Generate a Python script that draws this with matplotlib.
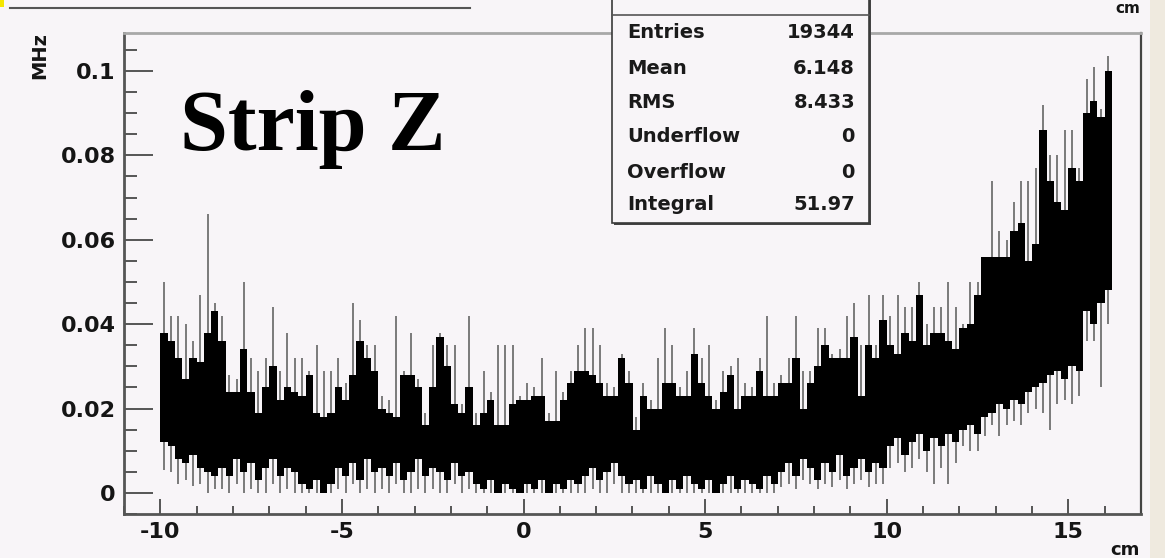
import numpy as np
import matplotlib
matplotlib.use('Agg')
import matplotlib.pyplot as plt
from matplotlib.patches import Rectangle
from matplotlib.lines import Line2D
from matplotlib.ticker import MultipleLocator, FixedLocator, FixedFormatter

plt.rcParams['axes.unicode_minus'] = False
plt.rcParams['font.family'] = ['DejaVu Sans']

# ---------------- data ----------------
hist_start = -10.0      # cm, first bin low edge
bin_width = 0.2         # cm

# upper edge of the dense black band per bin (MHz)
black_hi = [0.038, 0.036, 0.032, 0.027, 0.032, 0.031, 0.038, 0.043, 0.036, 0.024,
            0.024, 0.034, 0.024, 0.019, 0.025, 0.030, 0.022, 0.025, 0.024, 0.023,
            0.028, 0.019, 0.018, 0.019, 0.025, 0.022, 0.028, 0.036, 0.032, 0.029,
            0.020, 0.019, 0.018, 0.028, 0.028, 0.025, 0.016, 0.025, 0.037, 0.030,
            0.021, 0.019, 0.025, 0.016, 0.019, 0.022, 0.016, 0.016, 0.021, 0.022,
            0.022, 0.023, 0.023, 0.017, 0.017, 0.022, 0.026, 0.029, 0.029, 0.028,
            0.026, 0.023, 0.023, 0.032, 0.026, 0.015, 0.023, 0.020, 0.020, 0.026,
            0.026, 0.023, 0.023, 0.033, 0.026, 0.023, 0.020, 0.024, 0.028, 0.020,
            0.023, 0.023, 0.029, 0.023, 0.023, 0.026, 0.026, 0.032, 0.020, 0.026,
            0.030, 0.035, 0.032, 0.032, 0.032, 0.037, 0.023, 0.035, 0.032, 0.041,
            0.035, 0.033, 0.038, 0.036, 0.047, 0.035, 0.038, 0.038, 0.036, 0.034,
            0.039, 0.040, 0.047, 0.056, 0.056, 0.056, 0.056, 0.062, 0.064, 0.055,
            0.059, 0.086, 0.074, 0.069, 0.067, 0.077, 0.074, 0.090, 0.093, 0.089,
            0.100]

# lower edge of the dense black band per bin (MHz)
black_lo = [0.012, 0.011, 0.008, 0.007, 0.009, 0.006, 0.005, 0.004, 0.006, 0.004,
            0.008, 0.005, 0.007, 0.003, 0.006, 0.008, 0.004, 0.006, 0.005, 0.002,
            0.001, 0.003, 0.000, 0.002, 0.006, 0.004, 0.007, 0.003, 0.008, 0.005,
            0.006, 0.004, 0.007, 0.003, 0.005, 0.008, 0.004, 0.006, 0.005, 0.003,
            0.007, 0.004, 0.005, 0.002, 0.001, 0.003, 0.000, 0.002, 0.001, 0.000,
            0.002, 0.001, 0.003, 0.000, 0.002, 0.001, 0.003, 0.002, 0.004, 0.006,
            0.003, 0.005, 0.007, 0.004, 0.002, 0.003, 0.001, 0.004, 0.002, 0.000,
            0.003, 0.001, 0.004, 0.002, 0.001, 0.003, 0.000, 0.002, 0.004, 0.001,
            0.003, 0.002, 0.001, 0.004, 0.002, 0.005, 0.007, 0.004, 0.008, 0.006,
            0.003, 0.007, 0.005, 0.009, 0.004, 0.006, 0.008, 0.005, 0.007, 0.006,
            0.011, 0.013, 0.009, 0.012, 0.014, 0.010, 0.013, 0.011, 0.014, 0.012,
            0.015, 0.016, 0.014, 0.018, 0.019, 0.021, 0.020, 0.022, 0.021, 0.024,
            0.025, 0.026, 0.028, 0.029, 0.027, 0.030, 0.029, 0.043, 0.040, 0.045,
            0.048]

# highest error-bar tip per bin (MHz)
spike_hi = [0.050, 0.042, 0.042, 0.040, 0.036, 0.047, 0.066, 0.045, 0.042, 0.028,
            0.027, 0.050, 0.032, 0.029, 0.032, 0.044, 0.029, 0.038, 0.032, 0.032,
            0.029, 0.035, 0.029, 0.029, 0.032, 0.026, 0.045, 0.041, 0.035, 0.035,
            0.023, 0.022, 0.042, 0.029, 0.038, 0.027, 0.019, 0.035, 0.038, 0.035,
            0.035, 0.021, 0.042, 0.019, 0.029, 0.024, 0.035, 0.035, 0.035, 0.023,
            0.026, 0.025, 0.032, 0.019, 0.029, 0.024, 0.029, 0.035, 0.039, 0.039,
            0.035, 0.026, 0.025, 0.033, 0.029, 0.018, 0.026, 0.022, 0.032, 0.039,
            0.035, 0.025, 0.029, 0.039, 0.032, 0.035, 0.022, 0.029, 0.030, 0.032,
            0.026, 0.025, 0.032, 0.042, 0.026, 0.028, 0.032, 0.042, 0.029, 0.029,
            0.039, 0.039, 0.033, 0.034, 0.042, 0.045, 0.035, 0.047, 0.035, 0.047,
            0.042, 0.047, 0.044, 0.044, 0.050, 0.040, 0.044, 0.044, 0.050, 0.044,
            0.040, 0.050, 0.050, 0.053, 0.074, 0.062, 0.060, 0.069, 0.074, 0.074,
            0.077, 0.092, 0.080, 0.080, 0.086, 0.086, 0.077, 0.098, 0.101, 0.091,
            0.1035]

# lowest error-bar tip per bin (MHz)
spike_lo = [0.0055, 0.005, 0.002, 0.003, 0.0016, 0.002, 0.000, 0.001, 0.001, 0.000,
            0.002, 0.000, 0.001, 0.000, 0.000, 0.002, 0.000, 0.001, 0.000, 0.000,
            0.000, 0.000, 0.000, 0.000, 0.001, 0.000, 0.002, 0.000, 0.001, 0.000,
            0.001, 0.000, 0.002, 0.000, 0.000, 0.001, 0.000, 0.001, 0.000, 0.000,
            0.002, 0.000, 0.001, 0.000, 0.000, 0.000, 0.000, 0.000, 0.000, 0.000,
            0.000, 0.000, 0.000, 0.000, 0.000, 0.000, 0.000, 0.000, 0.000, 0.001,
            0.000, 0.000, 0.002, 0.000, 0.000, 0.000, 0.000, 0.000, 0.000, 0.000,
            0.000, 0.000, 0.000, 0.000, 0.000, 0.000, 0.000, 0.000, 0.000, 0.000,
            0.000, 0.000, 0.000, 0.000, 0.000, 0.0015, 0.002, 0.001, 0.003, 0.002,
            0.001, 0.002, 0.0015, 0.003, 0.001, 0.002, 0.003, 0.0015, 0.002, 0.002,
            0.006, 0.007, 0.005, 0.006, 0.008, 0.005, 0.002, 0.006, 0.002, 0.007,
            0.011, 0.010, 0.010, 0.0135, 0.016, 0.0135, 0.016, 0.017, 0.016, 0.019,
            0.020, 0.019, 0.015, 0.021, 0.022, 0.021, 0.023, 0.036, 0.036, 0.025,
            0.040]

x_ticks = [-10, -5, 0, 5, 10, 15]
x_tick_labels = ['-10', '-5', '0', '5', '10', '15']
y_ticks = [0, 0.02, 0.04, 0.06, 0.08, 0.1]
y_tick_labels = ['0', '0.02', '0.04', '0.06', '0.08', '0.1']
x_label = 'cm'
y_label = 'MHz'
title_text = 'Strip Z'
stats_labels = ['Entries', 'Mean', 'RMS', 'Underflow', 'Overflow', 'Integral']
stats_values = ['19344', '6.148', '8.433', '0', '0', '51.97']

# ---------------- figure ----------------
W, H = 1165, 558
BG = '#f8f5f8'


def fx(px):
    return px / W


def fy(py):
    return 1 - py / H


fig = plt.figure(figsize=(W / 100, H / 100), dpi=100, facecolor=BG)
ax = fig.add_axes([fx(124), fy(514), (1141 - 124) / W, (514 - 33) / H])
ax.set_facecolor(BG)

n = len(black_hi)
centers = hist_start + bin_width * (np.arange(n) + 0.5)
bh = np.array(black_hi)
bl = np.array(black_lo)

ax.vlines(centers, spike_lo, spike_hi, colors='#7a7a7a', linewidth=1.4, zorder=2)
ax.bar(centers, bh - bl, bottom=bl, width=bin_width, color='black',
       linewidth=0, zorder=3)

ax.set_xlim(-11, 17)
ax.set_ylim(-0.005, 0.109)

ax.xaxis.set_major_locator(FixedLocator(x_ticks))
ax.xaxis.set_major_formatter(FixedFormatter(x_tick_labels))
ax.xaxis.set_minor_locator(MultipleLocator(1))
ax.yaxis.set_major_locator(FixedLocator(y_ticks))
ax.yaxis.set_major_formatter(FixedFormatter(y_tick_labels))
ax.yaxis.set_minor_locator(MultipleLocator(0.005))

ax.tick_params(axis='both', which='both', direction='in', color='#555555',
               width=1.4, top=False, right=False)
ax.tick_params(axis='x', which='major', length=11, pad=6)
ax.tick_params(axis='x', which='minor', length=5.5)
ax.tick_params(axis='y', which='major', length=21, pad=6)
ax.tick_params(axis='y', which='minor', length=9.5)
for lab in ax.get_xticklabels() + ax.get_yticklabels():
    lab.set_fontweight('bold')
    lab.set_fontsize(16)
    lab.set_color('#151515')

ax.spines['left'].set_color('#555555')
ax.spines['left'].set_linewidth(2)
ax.spines['bottom'].set_color('#555555')
ax.spines['bottom'].set_linewidth(2)
ax.spines['top'].set_color('#a8a8a8')
ax.spines['top'].set_linewidth(2)
ax.spines['right'].set_color('#444444')
ax.spines['right'].set_linewidth(1.6)

# axis titles
fig.text(fx(40), fy(56), y_label, rotation=90, ha='center', va='center',
         fontsize=14, fontweight='bold', color='#151515')
fig.text(fx(1140), fy(550), x_label, ha='right', va='center',
         fontsize=13, fontweight='bold', color='#151515')
# label at top right (cut in the original, kept fully visible here)
fig.text(fx(1140), fy(1), x_label, ha='right', va='top',
         fontsize=11, fontweight='bold', color='#151515')

# big annotation
fig.text(fx(180), fy(150), title_text, ha='left', va='baseline',
         fontsize=62, fontweight='bold', family='Liberation Serif', color='black')

# top-left decorative line and corner
fig.add_artist(Line2D([fx(10), fx(470)], [fy(8), fy(8)], color='#555555', lw=1.5))
fig.add_artist(Rectangle((0, fy(7)), fx(4), 7 / H, color='#f5e600', lw=0))
# right-side border strip
fig.add_artist(Rectangle((fx(1150), 0), fx(15), 1, color='#efeadf', lw=0))

# stats box
bx0, bx1, by1 = 612, 869, 223
fig.add_artist(Rectangle((fx(bx0 + 2), fy(by1 + 2)), (bx1 - bx0) / W, (by1 + 20) / H,
                         facecolor='#444444', edgecolor='none', zorder=5))
fig.add_artist(Rectangle((fx(bx0), fy(by1)), (bx1 - bx0) / W, (by1 + 20) / H,
                         facecolor=BG, edgecolor='#3a3a3a', lw=1.2, zorder=6))
fig.add_artist(Line2D([fx(bx0), fx(bx1)], [fy(15), fy(15)], color='#555555',
                      lw=1.2, zorder=7))
row_y = [33, 68, 103, 137, 172, 205]
for lab, val, yy in zip(stats_labels, stats_values, row_y):
    fig.text(fx(627), fy(yy), lab, ha='left', va='center', fontsize=14,
             fontweight='bold', color='#1a1a1a', zorder=8)
    fig.text(fx(855), fy(yy), val, ha='right', va='center', fontsize=14,
             fontweight='bold', color='#1a1a1a', zorder=8)

fig.savefig('out.png', dpi=100, facecolor=BG)
